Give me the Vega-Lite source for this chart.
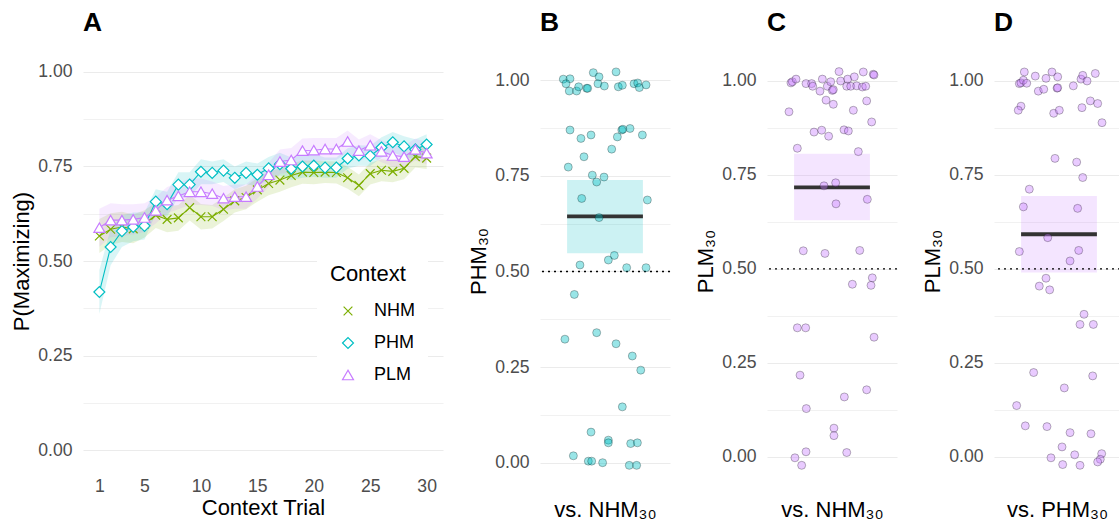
{
  "$schema": "https://vega.github.io/schema/vega-lite/v6.json",
  "padding": {"left": 10, "top": 9, "right": 0, "bottom": 0},
  "bounds": "flush",
  "spacing": 97,
  "config": {
    "view": {"stroke": null},
    "font": "Liberation Sans",
    "axis": {
      "labelFont": "Liberation Sans", "labelFontSize": 17.6, "labelColor": "#4D4D4D",
      "titleFont": "Liberation Sans", "titleFontSize": 22, "titleFontWeight": "normal", "titleColor": "#000000",
      "ticks": false, "domain": false, "gridColor": "#EBEBEB"
    },
    "title": {"font": "Liberation Sans", "fontSize": 26.4, "fontWeight": "bold", "color": "#000000", "anchor": "start", "frame": "group", "offset": 17, "baseline": "alphabetic"}
  },
  "datasets": {
    "trials": [
      {"context": "NHM", "trial": 1, "p": 0.566, "lo": 0.521, "hi": 0.611},
      {"context": "NHM", "trial": 2, "p": 0.584, "lo": 0.542, "hi": 0.626},
      {"context": "NHM", "trial": 3, "p": 0.590, "lo": 0.550, "hi": 0.630},
      {"context": "NHM", "trial": 4, "p": 0.585, "lo": 0.547, "hi": 0.623},
      {"context": "NHM", "trial": 5, "p": 0.598, "lo": 0.562, "hi": 0.634},
      {"context": "NHM", "trial": 6, "p": 0.621, "lo": 0.587, "hi": 0.655},
      {"context": "NHM", "trial": 7, "p": 0.610, "lo": 0.576, "hi": 0.644},
      {"context": "NHM", "trial": 8, "p": 0.614, "lo": 0.580, "hi": 0.648},
      {"context": "NHM", "trial": 9, "p": 0.641, "lo": 0.607, "hi": 0.675},
      {"context": "NHM", "trial": 10, "p": 0.617, "lo": 0.583, "hi": 0.651},
      {"context": "NHM", "trial": 11, "p": 0.617, "lo": 0.586, "hi": 0.648},
      {"context": "NHM", "trial": 12, "p": 0.637, "lo": 0.606, "hi": 0.668},
      {"context": "NHM", "trial": 13, "p": 0.659, "lo": 0.628, "hi": 0.690},
      {"context": "NHM", "trial": 14, "p": 0.668, "lo": 0.637, "hi": 0.699},
      {"context": "NHM", "trial": 15, "p": 0.688, "lo": 0.657, "hi": 0.719},
      {"context": "NHM", "trial": 16, "p": 0.705, "lo": 0.674, "hi": 0.736},
      {"context": "NHM", "trial": 17, "p": 0.714, "lo": 0.683, "hi": 0.745},
      {"context": "NHM", "trial": 18, "p": 0.726, "lo": 0.695, "hi": 0.757},
      {"context": "NHM", "trial": 19, "p": 0.735, "lo": 0.704, "hi": 0.766},
      {"context": "NHM", "trial": 20, "p": 0.734, "lo": 0.703, "hi": 0.765},
      {"context": "NHM", "trial": 21, "p": 0.735, "lo": 0.706, "hi": 0.764},
      {"context": "NHM", "trial": 22, "p": 0.734, "lo": 0.705, "hi": 0.763},
      {"context": "NHM", "trial": 23, "p": 0.720, "lo": 0.691, "hi": 0.749},
      {"context": "NHM", "trial": 24, "p": 0.700, "lo": 0.671, "hi": 0.729},
      {"context": "NHM", "trial": 25, "p": 0.731, "lo": 0.702, "hi": 0.760},
      {"context": "NHM", "trial": 26, "p": 0.740, "lo": 0.711, "hi": 0.769},
      {"context": "NHM", "trial": 27, "p": 0.737, "lo": 0.708, "hi": 0.766},
      {"context": "NHM", "trial": 28, "p": 0.745, "lo": 0.716, "hi": 0.774},
      {"context": "NHM", "trial": 29, "p": 0.776, "lo": 0.747, "hi": 0.805},
      {"context": "NHM", "trial": 30, "p": 0.772, "lo": 0.743, "hi": 0.801},
      {"context": "PHM", "trial": 1, "p": 0.418, "lo": 0.360, "hi": 0.476},
      {"context": "PHM", "trial": 2, "p": 0.537, "lo": 0.489, "hi": 0.585},
      {"context": "PHM", "trial": 3, "p": 0.579, "lo": 0.537, "hi": 0.621},
      {"context": "PHM", "trial": 4, "p": 0.590, "lo": 0.552, "hi": 0.628},
      {"context": "PHM", "trial": 5, "p": 0.593, "lo": 0.557, "hi": 0.629},
      {"context": "PHM", "trial": 6, "p": 0.657, "lo": 0.624, "hi": 0.690},
      {"context": "PHM", "trial": 7, "p": 0.650, "lo": 0.617, "hi": 0.683},
      {"context": "PHM", "trial": 8, "p": 0.702, "lo": 0.669, "hi": 0.735},
      {"context": "PHM", "trial": 9, "p": 0.702, "lo": 0.669, "hi": 0.735},
      {"context": "PHM", "trial": 10, "p": 0.736, "lo": 0.703, "hi": 0.769},
      {"context": "PHM", "trial": 11, "p": 0.733, "lo": 0.703, "hi": 0.763},
      {"context": "PHM", "trial": 12, "p": 0.739, "lo": 0.709, "hi": 0.769},
      {"context": "PHM", "trial": 13, "p": 0.720, "lo": 0.690, "hi": 0.750},
      {"context": "PHM", "trial": 14, "p": 0.733, "lo": 0.703, "hi": 0.763},
      {"context": "PHM", "trial": 15, "p": 0.728, "lo": 0.698, "hi": 0.758},
      {"context": "PHM", "trial": 16, "p": 0.745, "lo": 0.715, "hi": 0.775},
      {"context": "PHM", "trial": 17, "p": 0.756, "lo": 0.726, "hi": 0.786},
      {"context": "PHM", "trial": 18, "p": 0.744, "lo": 0.714, "hi": 0.774},
      {"context": "PHM", "trial": 19, "p": 0.750, "lo": 0.720, "hi": 0.780},
      {"context": "PHM", "trial": 20, "p": 0.752, "lo": 0.722, "hi": 0.782},
      {"context": "PHM", "trial": 21, "p": 0.747, "lo": 0.720, "hi": 0.774},
      {"context": "PHM", "trial": 22, "p": 0.747, "lo": 0.720, "hi": 0.774},
      {"context": "PHM", "trial": 23, "p": 0.771, "lo": 0.744, "hi": 0.798},
      {"context": "PHM", "trial": 24, "p": 0.779, "lo": 0.752, "hi": 0.806},
      {"context": "PHM", "trial": 25, "p": 0.778, "lo": 0.751, "hi": 0.805},
      {"context": "PHM", "trial": 26, "p": 0.800, "lo": 0.773, "hi": 0.827},
      {"context": "PHM", "trial": 27, "p": 0.814, "lo": 0.787, "hi": 0.841},
      {"context": "PHM", "trial": 28, "p": 0.803, "lo": 0.776, "hi": 0.830},
      {"context": "PHM", "trial": 29, "p": 0.795, "lo": 0.768, "hi": 0.822},
      {"context": "PHM", "trial": 30, "p": 0.808, "lo": 0.781, "hi": 0.835},
      {"context": "PLM", "trial": 1, "p": 0.588, "lo": 0.538, "hi": 0.638},
      {"context": "PLM", "trial": 2, "p": 0.608, "lo": 0.563, "hi": 0.653},
      {"context": "PLM", "trial": 3, "p": 0.608, "lo": 0.566, "hi": 0.650},
      {"context": "PLM", "trial": 4, "p": 0.610, "lo": 0.570, "hi": 0.650},
      {"context": "PLM", "trial": 5, "p": 0.615, "lo": 0.577, "hi": 0.653},
      {"context": "PLM", "trial": 6, "p": 0.634, "lo": 0.599, "hi": 0.669},
      {"context": "PLM", "trial": 7, "p": 0.661, "lo": 0.626, "hi": 0.696},
      {"context": "PLM", "trial": 8, "p": 0.672, "lo": 0.637, "hi": 0.707},
      {"context": "PLM", "trial": 9, "p": 0.683, "lo": 0.648, "hi": 0.718},
      {"context": "PLM", "trial": 10, "p": 0.683, "lo": 0.648, "hi": 0.718},
      {"context": "PLM", "trial": 11, "p": 0.678, "lo": 0.646, "hi": 0.710},
      {"context": "PLM", "trial": 12, "p": 0.666, "lo": 0.634, "hi": 0.698},
      {"context": "PLM", "trial": 13, "p": 0.670, "lo": 0.638, "hi": 0.702},
      {"context": "PLM", "trial": 14, "p": 0.670, "lo": 0.638, "hi": 0.702},
      {"context": "PLM", "trial": 15, "p": 0.697, "lo": 0.665, "hi": 0.729},
      {"context": "PLM", "trial": 16, "p": 0.728, "lo": 0.696, "hi": 0.760},
      {"context": "PLM", "trial": 17, "p": 0.763, "lo": 0.731, "hi": 0.795},
      {"context": "PLM", "trial": 18, "p": 0.767, "lo": 0.735, "hi": 0.799},
      {"context": "PLM", "trial": 19, "p": 0.792, "lo": 0.760, "hi": 0.824},
      {"context": "PLM", "trial": 20, "p": 0.793, "lo": 0.761, "hi": 0.825},
      {"context": "PLM", "trial": 21, "p": 0.796, "lo": 0.767, "hi": 0.825},
      {"context": "PLM", "trial": 22, "p": 0.796, "lo": 0.767, "hi": 0.825},
      {"context": "PLM", "trial": 23, "p": 0.816, "lo": 0.787, "hi": 0.845},
      {"context": "PLM", "trial": 24, "p": 0.792, "lo": 0.763, "hi": 0.821},
      {"context": "PLM", "trial": 25, "p": 0.806, "lo": 0.777, "hi": 0.835},
      {"context": "PLM", "trial": 26, "p": 0.790, "lo": 0.761, "hi": 0.819},
      {"context": "PLM", "trial": 27, "p": 0.779, "lo": 0.750, "hi": 0.808},
      {"context": "PLM", "trial": 28, "p": 0.776, "lo": 0.747, "hi": 0.805},
      {"context": "PLM", "trial": 29, "p": 0.795, "lo": 0.766, "hi": 0.824},
      {"context": "PLM", "trial": 30, "p": 0.785, "lo": 0.756, "hi": 0.814}
    ],
    "sumB": [{"mean": 0.644, "lo": 0.548, "hi": 0.739}],
    "sumC": [{"mean": 0.717, "lo": 0.629, "hi": 0.806}],
    "sumD": [{"mean": 0.592, "lo": 0.490, "hi": 0.694}],
    "ptsB": [
      {"x": 0.615, "v": 1.003}, {"x": 0.677, "v": 1.004}, {"x": 0.640, "v": 0.991}, {"x": 0.670, "v": 0.972},
      {"x": 0.738, "v": 0.972}, {"x": 0.757, "v": 0.983}, {"x": 0.831, "v": 0.979}, {"x": 0.840, "v": 0.979},
      {"x": 0.892, "v": 1.020}, {"x": 0.945, "v": 1.009}, {"x": 0.935, "v": 0.991}, {"x": 0.994, "v": 0.985},
      {"x": 1.102, "v": 1.022}, {"x": 1.123, "v": 0.983}, {"x": 1.160, "v": 0.987}, {"x": 1.268, "v": 0.991},
      {"x": 1.302, "v": 0.993}, {"x": 1.317, "v": 0.981}, {"x": 1.379, "v": 0.988},
      {"x": 0.677, "v": 0.870}, {"x": 0.778, "v": 0.848}, {"x": 0.871, "v": 0.857}, {"x": 1.155, "v": 0.870},
      {"x": 1.165, "v": 0.872}, {"x": 1.231, "v": 0.874}, {"x": 1.114, "v": 0.852}, {"x": 1.345, "v": 0.857},
      {"x": 1.062, "v": 0.820}, {"x": 0.806, "v": 0.800}, {"x": 0.661, "v": 0.773}, {"x": 0.883, "v": 0.752},
      {"x": 0.991, "v": 0.747}, {"x": 0.923, "v": 0.734}, {"x": 0.785, "v": 0.691}, {"x": 1.391, "v": 0.687},
      {"x": 0.945, "v": 0.641}, {"x": 0.769, "v": 0.517}, {"x": 1.031, "v": 0.530}, {"x": 1.086, "v": 0.542},
      {"x": 1.200, "v": 0.510}, {"x": 1.379, "v": 0.510},
      {"x": 0.717, "v": 0.440}, {"x": 0.630, "v": 0.323}, {"x": 0.923, "v": 0.340}, {"x": 1.102, "v": 0.311},
      {"x": 1.252, "v": 0.279}, {"x": 1.330, "v": 0.242}, {"x": 1.160, "v": 0.146}, {"x": 0.871, "v": 0.080},
      {"x": 1.031, "v": 0.059}, {"x": 1.031, "v": 0.052}, {"x": 1.237, "v": 0.050}, {"x": 1.299, "v": 0.052},
      {"x": 0.708, "v": 0.018}, {"x": 0.846, "v": 0.004}, {"x": 0.877, "v": 0.004}, {"x": 0.978, "v": 0.000},
      {"x": 1.224, "v": -0.007}, {"x": 1.292, "v": -0.007}
    ],
    "ptsC": [
      {"x": 0.621, "v": 0.995}, {"x": 0.634, "v": 0.998}, {"x": 0.668, "v": 1.005}, {"x": 0.760, "v": 0.993},
      {"x": 0.812, "v": 0.993}, {"x": 0.822, "v": 0.986}, {"x": 0.889, "v": 0.973}, {"x": 0.911, "v": 1.005},
      {"x": 0.957, "v": 0.986}, {"x": 0.988, "v": 0.998}, {"x": 1.003, "v": 0.975}, {"x": 1.012, "v": 0.977},
      {"x": 1.065, "v": 1.025}, {"x": 1.080, "v": 1.000}, {"x": 1.136, "v": 0.986}, {"x": 1.145, "v": 1.005},
      {"x": 1.173, "v": 0.986}, {"x": 1.206, "v": 1.011}, {"x": 1.228, "v": 0.987}, {"x": 1.280, "v": 0.984},
      {"x": 1.289, "v": 1.024}, {"x": 1.311, "v": 0.986}, {"x": 1.381, "v": 1.018}, {"x": 1.388, "v": 1.016},
      {"x": 0.945, "v": 0.949}, {"x": 1.012, "v": 0.938}, {"x": 0.603, "v": 0.918}, {"x": 1.197, "v": 0.922},
      {"x": 1.320, "v": 0.947}, {"x": 1.366, "v": 0.891}, {"x": 0.834, "v": 0.864}, {"x": 0.905, "v": 0.869},
      {"x": 0.969, "v": 0.853}, {"x": 1.111, "v": 0.870}, {"x": 1.151, "v": 0.867}, {"x": 0.680, "v": 0.821},
      {"x": 1.243, "v": 0.812}, {"x": 1.034, "v": 0.729}, {"x": 0.926, "v": 0.721}, {"x": 1.326, "v": 0.685},
      {"x": 1.037, "v": 0.673}, {"x": 0.735, "v": 0.548}, {"x": 0.935, "v": 0.541}, {"x": 1.256, "v": 0.549},
      {"x": 1.372, "v": 0.476}, {"x": 1.188, "v": 0.459}, {"x": 1.360, "v": 0.456}, {"x": 0.680, "v": 0.343},
      {"x": 0.757, "v": 0.343}, {"x": 1.388, "v": 0.318}, {"x": 0.705, "v": 0.217}, {"x": 1.320, "v": 0.178},
      {"x": 1.114, "v": 0.159}, {"x": 0.763, "v": 0.128}, {"x": 1.018, "v": 0.076}, {"x": 1.018, "v": 0.056},
      {"x": 0.658, "v": -0.003}, {"x": 0.760, "v": 0.013}, {"x": 1.136, "v": 0.011}, {"x": 0.720, "v": -0.023}
    ],
    "ptsD": [
      {"x": 0.634, "v": 0.993}, {"x": 0.649, "v": 0.995}, {"x": 0.680, "v": 1.024}, {"x": 0.671, "v": 1.002},
      {"x": 0.702, "v": 0.994}, {"x": 0.781, "v": 1.013}, {"x": 0.809, "v": 0.973}, {"x": 0.859, "v": 0.978},
      {"x": 0.880, "v": 1.007}, {"x": 0.935, "v": 1.024}, {"x": 0.982, "v": 0.981}, {"x": 0.988, "v": 0.982},
      {"x": 0.988, "v": 1.011}, {"x": 1.132, "v": 0.987}, {"x": 1.203, "v": 1.005}, {"x": 1.219, "v": 1.015},
      {"x": 1.259, "v": 1.000}, {"x": 1.335, "v": 1.020}, {"x": 0.649, "v": 0.933}, {"x": 0.624, "v": 0.922},
      {"x": 0.951, "v": 0.914}, {"x": 1.003, "v": 0.922}, {"x": 1.212, "v": 0.929}, {"x": 1.289, "v": 0.947},
      {"x": 1.357, "v": 0.940}, {"x": 1.397, "v": 0.889}, {"x": 0.963, "v": 0.794}, {"x": 1.163, "v": 0.784},
      {"x": 1.219, "v": 0.743}, {"x": 0.726, "v": 0.712}, {"x": 0.671, "v": 0.665}, {"x": 1.172, "v": 0.661},
      {"x": 0.896, "v": 0.583}, {"x": 0.634, "v": 0.546}, {"x": 1.182, "v": 0.549}, {"x": 1.102, "v": 0.521},
      {"x": 0.880, "v": 0.475}, {"x": 0.818, "v": 0.454}, {"x": 0.914, "v": 0.444}, {"x": 1.231, "v": 0.379},
      {"x": 1.194, "v": 0.352}, {"x": 1.317, "v": 0.352}, {"x": 0.766, "v": 0.224}, {"x": 1.311, "v": 0.215},
      {"x": 1.049, "v": 0.183}, {"x": 0.609, "v": 0.136}, {"x": 0.689, "v": 0.082}, {"x": 0.889, "v": 0.080},
      {"x": 1.102, "v": 0.064}, {"x": 1.295, "v": 0.061}, {"x": 1.028, "v": 0.026}, {"x": 0.926, "v": -0.003},
      {"x": 1.145, "v": 0.005}, {"x": 1.034, "v": -0.021}, {"x": 1.194, "v": -0.023}, {"x": 1.394, "v": 0.008},
      {"x": 1.381, "v": -0.007}, {"x": 1.357, "v": -0.014}
    ]
  },
  "hconcat": [
    {
      "width": 360, "height": 416,
      "title": {"text": "A"},
      "data": {"name": "trials"},
      "encoding": {
        "x": {"field": "trial", "type": "quantitative", "scale": {"domain": [-0.45, 31.45], "nice": false, "zero": false},
              "axis": {"title": "Context Trial", "values": [1, 5, 10, 15, 20, 25, 30], "grid": false, "labelPadding": 8, "titlePadding": 3, "labelFlush": false, "labelOverlap": false}},
        "y": {"field": "p", "type": "quantitative", "scale": {"domain": [-0.05, 1.05], "nice": false, "zero": false},
              "axis": {"title": "P(Maximizing)", "values": [0, 0.125, 0.25, 0.375, 0.5, 0.625, 0.75, 0.875, 1],
                       "labelExpr": "(datum.value * 4) % 1 === 0 ? format(datum.value, '.2f') : ''",
                       "grid": true, "gridWidth": {"condition": {"test": "(datum.value * 4) % 1 === 0", "value": 1.2}, "value": 0.7},
                       "labelPadding": 11, "titlePadding": 4}}
      },
      "layer": [
        {
          "transform": [{"filter": "datum.context === 'NHM'"}],
          "mark": {"type": "area", "color": "#7CAE00", "fillOpacity": 0.15},
          "encoding": {"y": {"field": "lo", "type": "quantitative"}, "y2": {"field": "hi"}}
        },
        {
          "transform": [{"filter": "datum.context === 'PHM'"}],
          "mark": {"type": "area", "color": "#00BFC4", "fillOpacity": 0.15},
          "encoding": {"y": {"field": "lo", "type": "quantitative"}, "y2": {"field": "hi"}}
        },
        {
          "transform": [{"filter": "datum.context === 'PLM'"}],
          "mark": {"type": "area", "color": "#C77CFF", "fillOpacity": 0.15},
          "encoding": {"y": {"field": "lo", "type": "quantitative"}, "y2": {"field": "hi"}}
        },
        {
          "mark": {"type": "line", "strokeWidth": 1.1},
          "encoding": {
            "stroke": {"field": "context", "type": "nominal", "title": "Context", "scale": {"domain": ["NHM", "PHM", "PLM"], "range": ["#7CAE00", "#00BFC4", "#C77CFF"]},
                       "legend": {"orient": "none", "legendX": 234, "legendY": 198, "fillColor": "white", "padding": 13,
                                  "titleFontSize": 22, "titleFontWeight": "normal", "titleColor": "#000000", "titleFont": "Liberation Sans", "titlePadding": 16,
                                  "labelFont": "Liberation Sans", "labelFontSize": 18, "labelColor": "#000000",
                                  "symbolSize": 120, "symbolStrokeWidth": 1.2, "symbolOffset": 9, "labelOffset": 17, "rowPadding": 14}}
          }
        },
        {
          "mark": {"type": "point", "filled": false, "fill": "white", "size": 120, "strokeWidth": 1.2, "opacity": 1},
          "encoding": {
            "stroke": {"field": "context", "type": "nominal", "title": "Context", "scale": {"domain": ["NHM", "PHM", "PLM"], "range": ["#7CAE00", "#00BFC4", "#C77CFF"]},
                       "legend": {"orient": "none", "legendX": 234, "legendY": 198, "fillColor": "white", "padding": 13,
                                  "titleFontSize": 22, "titleFontWeight": "normal", "titleColor": "#000000", "titleFont": "Liberation Sans", "titlePadding": 16,
                                  "labelFont": "Liberation Sans", "labelFontSize": 18, "labelColor": "#000000",
                                  "symbolSize": 120, "symbolStrokeWidth": 1.2, "symbolOffset": 9, "labelOffset": 17, "rowPadding": 14}},
            "shape": {"field": "context", "type": "nominal", "title": "Context", "scale": {"domain": ["NHM", "PHM", "PLM"], "range": ["M-0.8,-0.8L0.8,0.8M-0.8,0.8L0.8,-0.8", "diamond", "triangle-up"]},
                      "legend": {"orient": "none", "legendX": 234, "legendY": 198, "fillColor": "white", "padding": 13,
                                 "titleFontSize": 22, "titleFontWeight": "normal", "titleColor": "#000000", "titleFont": "Liberation Sans", "titlePadding": 16,
                                 "labelFont": "Liberation Sans", "labelFontSize": 18, "labelColor": "#000000",
                                 "symbolSize": 120, "symbolStrokeWidth": 1.2, "symbolOffset": 9, "labelOffset": 17, "rowPadding": 14}}
          }
        }
      ]
    },
    {
      "width": 130, "height": 416,
      "title": {"text": "B"},
      "encoding": {
        "y": {"type": "quantitative", "scale": {"domain": [-0.0165, 1.0714], "nice": false, "zero": false},
              "axis": {"title": "PHM₃₀", "values": [0, 0.125, 0.25, 0.375, 0.5, 0.625, 0.75, 0.875, 1],
                       "labelExpr": "(datum.value * 4) % 1 === 0 ? format(datum.value, '.2f') : ''",
                       "grid": true, "gridWidth": {"condition": {"test": "(datum.value * 4) % 1 === 0", "value": 1.2}, "value": 0.7},
                       "labelPadding": 11, "titlePadding": 4}}
      },
      "layer": [
        {
          "data": {"name": "sumB"},
          "mark": {"type": "rect", "color": "#00BFC4", "opacity": 0.2},
          "encoding": {
            "x": {"datum": 0.65, "type": "quantitative", "scale": {"domain": [0.4, 1.6], "nice": false, "zero": false},
                  "axis": {"title": "vs. NHM₃₀", "labels": false, "grid": false, "titlePadding": 30}},
            "x2": {"datum": 1.35},
            "y": {"field": "lo", "type": "quantitative"},
            "y2": {"field": "hi"}
          }
        },
        {
          "data": {"name": "sumB"},
          "mark": {"type": "rule", "strokeDash": [2, 4], "strokeWidth": 1.4, "color": "#000000"},
          "encoding": {"y": {"datum": 0.5, "type": "quantitative"}}
        },
        {
          "data": {"name": "sumB"},
          "mark": {"type": "rule", "strokeWidth": 3.8, "color": "#333333"},
          "encoding": {
            "x": {"datum": 0.65, "type": "quantitative", "scale": {"domain": [0.4, 1.6], "nice": false, "zero": false},
                  "axis": {"title": "vs. NHM₃₀", "labels": false, "grid": false, "titlePadding": 30}},
            "x2": {"datum": 1.35},
            "y": {"field": "mean", "type": "quantitative"}
          }
        },
        {
          "data": {"name": "ptsB"},
          "mark": {"type": "circle", "size": 64, "fill": "#00BFC4", "fillOpacity": 0.4, "stroke": "#000000", "strokeOpacity": 0.3, "strokeWidth": 0.9},
          "encoding": {
            "x": {"field": "x", "type": "quantitative", "scale": {"domain": [0.4, 1.6], "nice": false, "zero": false},
                  "axis": {"title": "vs. NHM₃₀", "labels": false, "grid": false, "titlePadding": 30}},
            "y": {"field": "v", "type": "quantitative"}
          }
        }
      ]
    },
    {
      "width": 130, "height": 416,
      "title": {"text": "C"},
      "encoding": {
        "y": {"type": "quantitative", "scale": {"domain": [-0.0328, 1.0745], "nice": false, "zero": false},
              "axis": {"title": "PLM₃₀", "values": [0, 0.125, 0.25, 0.375, 0.5, 0.625, 0.75, 0.875, 1],
                       "labelExpr": "(datum.value * 4) % 1 === 0 ? format(datum.value, '.2f') : ''",
                       "grid": true, "gridWidth": {"condition": {"test": "(datum.value * 4) % 1 === 0", "value": 1.2}, "value": 0.7},
                       "labelPadding": 11, "titlePadding": 4}}
      },
      "layer": [
        {
          "data": {"name": "sumC"},
          "mark": {"type": "rect", "color": "#C77CFF", "opacity": 0.2},
          "encoding": {
            "x": {"datum": 0.65, "type": "quantitative", "scale": {"domain": [0.4, 1.6], "nice": false, "zero": false},
                  "axis": {"title": "vs. NHM₃₀", "labels": false, "grid": false, "titlePadding": 30}},
            "x2": {"datum": 1.35},
            "y": {"field": "lo", "type": "quantitative"},
            "y2": {"field": "hi"}
          }
        },
        {
          "data": {"name": "sumC"},
          "mark": {"type": "rule", "strokeDash": [2, 4], "strokeWidth": 1.4, "color": "#000000"},
          "encoding": {"y": {"datum": 0.5, "type": "quantitative"}}
        },
        {
          "data": {"name": "sumC"},
          "mark": {"type": "rule", "strokeWidth": 3.8, "color": "#333333"},
          "encoding": {
            "x": {"datum": 0.65, "type": "quantitative", "scale": {"domain": [0.4, 1.6], "nice": false, "zero": false},
                  "axis": {"title": "vs. NHM₃₀", "labels": false, "grid": false, "titlePadding": 30}},
            "x2": {"datum": 1.35},
            "y": {"field": "mean", "type": "quantitative"}
          }
        },
        {
          "data": {"name": "ptsC"},
          "mark": {"type": "circle", "size": 64, "fill": "#C77CFF", "fillOpacity": 0.4, "stroke": "#000000", "strokeOpacity": 0.3, "strokeWidth": 0.9},
          "encoding": {
            "x": {"field": "x", "type": "quantitative", "scale": {"domain": [0.4, 1.6], "nice": false, "zero": false},
                  "axis": {"title": "vs. NHM₃₀", "labels": false, "grid": false, "titlePadding": 30}},
            "y": {"field": "v", "type": "quantitative"}
          }
        }
      ]
    },
    {
      "width": 126, "height": 416,
      "title": {"text": "D"},
      "encoding": {
        "y": {"type": "quantitative", "scale": {"domain": [-0.0328, 1.0745], "nice": false, "zero": false},
              "axis": {"title": "PLM₃₀", "values": [0, 0.125, 0.25, 0.375, 0.5, 0.625, 0.75, 0.875, 1],
                       "labelExpr": "(datum.value * 4) % 1 === 0 ? format(datum.value, '.2f') : ''",
                       "grid": true, "gridWidth": {"condition": {"test": "(datum.value * 4) % 1 === 0", "value": 1.2}, "value": 0.7},
                       "labelPadding": 11, "titlePadding": 4}}
      },
      "layer": [
        {
          "data": {"name": "sumD"},
          "mark": {"type": "rect", "color": "#C77CFF", "opacity": 0.2},
          "encoding": {
            "x": {"datum": 0.65, "type": "quantitative", "scale": {"domain": [0.4, 1.5631], "nice": false, "zero": false},
                  "axis": {"title": "vs. PHM₃₀", "labels": false, "grid": false, "titlePadding": 30}},
            "x2": {"datum": 1.35},
            "y": {"field": "lo", "type": "quantitative"},
            "y2": {"field": "hi"}
          }
        },
        {
          "data": {"name": "sumD"},
          "mark": {"type": "rule", "strokeDash": [2, 4], "strokeWidth": 1.4, "color": "#000000"},
          "encoding": {"y": {"datum": 0.5, "type": "quantitative"}}
        },
        {
          "data": {"name": "sumD"},
          "mark": {"type": "rule", "strokeWidth": 3.8, "color": "#333333"},
          "encoding": {
            "x": {"datum": 0.65, "type": "quantitative", "scale": {"domain": [0.4, 1.5631], "nice": false, "zero": false},
                  "axis": {"title": "vs. PHM₃₀", "labels": false, "grid": false, "titlePadding": 30}},
            "x2": {"datum": 1.35},
            "y": {"field": "mean", "type": "quantitative"}
          }
        },
        {
          "data": {"name": "ptsD"},
          "mark": {"type": "circle", "size": 64, "fill": "#C77CFF", "fillOpacity": 0.4, "stroke": "#000000", "strokeOpacity": 0.3, "strokeWidth": 0.9},
          "encoding": {
            "x": {"field": "x", "type": "quantitative", "scale": {"domain": [0.4, 1.5631], "nice": false, "zero": false},
                  "axis": {"title": "vs. PHM₃₀", "labels": false, "grid": false, "titlePadding": 30}},
            "y": {"field": "v", "type": "quantitative"}
          }
        }
      ]
    }
  ]
}
